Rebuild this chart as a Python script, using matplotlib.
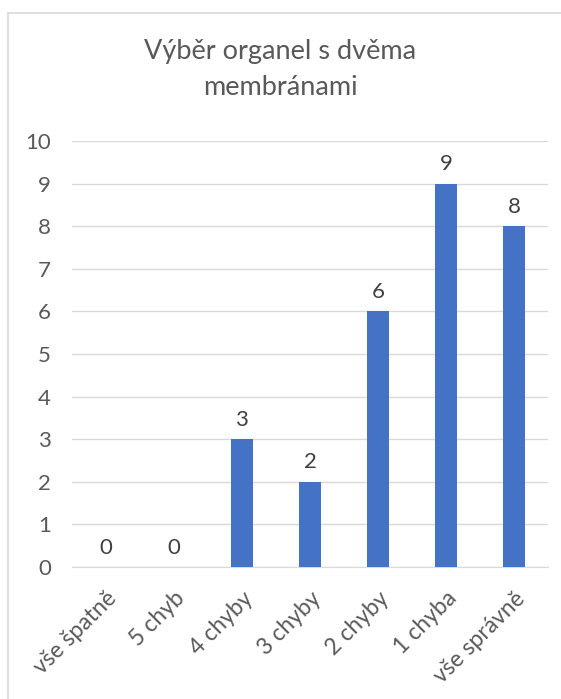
import matplotlib.pyplot as plt
from matplotlib.lines import Line2D

categories = ['vše špatně', '5 chyb', '4 chyby', '3 chyby', '2 chyby', '1 chyba', 'vše správně']
counts = [0, 0, 3, 2, 6, 9, 8]
title = 'Výběr organel s dvěma\nmembránami'

plt.rcParams['font.family'] = ['Lato', 'DejaVu Sans']

fig = plt.figure(figsize=(5.61, 6.99), dpi=100)
ax = fig.add_axes([0.128, 0.189, 0.849, 0.609])

x = range(len(categories))
bars = ax.bar(x, counts, width=0.33, color='#4472C4', zorder=3)
for rect, v in zip(bars, counts):
    ax.text(rect.get_x() + rect.get_width() / 2, v + 0.22, str(v),
            ha='center', va='bottom', fontsize=16, color='#404040')

ax.set_xlim(-0.5, len(categories) - 0.5)
ax.set_ylim(0, 10)
ax.set_yticks(range(0, 11))
ax.set_xticks(list(x))
ax.set_xticklabels(categories, rotation=45, ha='right', rotation_mode='anchor')
ax.tick_params(axis='both', length=0, labelsize=16, labelcolor='#595959')
ax.tick_params(axis='y', pad=15)
ax.tick_params(axis='x', labelsize=16.5, pad=15)
ax.grid(axis='y', color='#D9D9D9', linewidth=1, zorder=0)
for s in ['top', 'right', 'left']:
    ax.spines[s].set_visible(False)
ax.spines['bottom'].set_color('#D9D9D9')

fig.text(0.5, 0.901, title, ha='center', va='center', fontsize=19.5,
         color='#595959', linespacing=1.55)

# chart frame (left and top edge)
fig.add_artist(Line2D([8 / 561, 8 / 561], [0, 1 - 13 / 699], color='#D9D9D9', lw=1.2))
fig.add_artist(Line2D([8 / 561, 1], [1 - 13 / 699, 1 - 13 / 699], color='#D9D9D9', lw=1.2))

fig.savefig('out.png', dpi=100)
